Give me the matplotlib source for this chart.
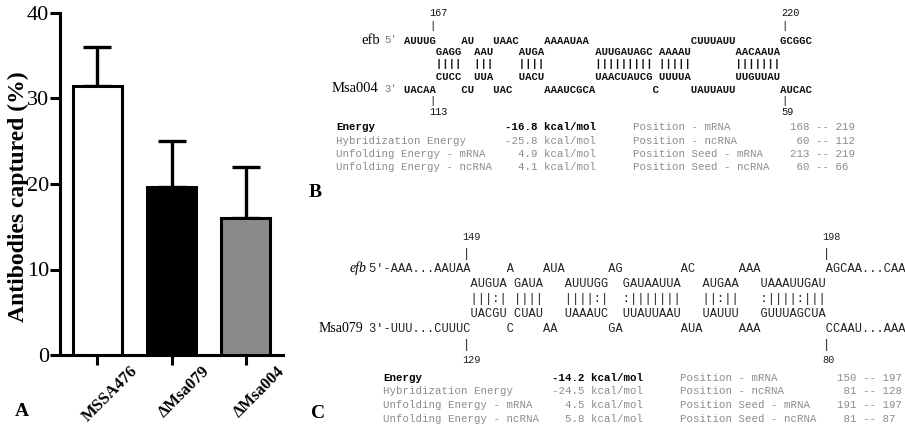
import numpy as np
import matplotlib
matplotlib.use("Agg")
import matplotlib.pyplot as plt
from matplotlib.transforms import ScaledTranslation

plt.rcParams['font.family'] = ['Liberation Serif', 'DejaVu Serif']

# panel A: antibody capture
strains = ['MSSA476', '\u0394Msa079', '\u0394Msa004']
captured = [31.5, 19.7, 16.0]
captured_sd = [4.5, 5.3, 6.0]
bar_colors = ['white', 'black', '#8a8a8a']

# panel B: efb / Msa004 duplex
b_flank5 = ('AUUUG', 'UACAA')
b_top = ['GAGG', 'AAU', 'AUGA', 'AUUGAUAGC', 'AAAAU', 'AACAAUA']
b_pairs = ['||||', '|||', '||||', '|||||||||', '|||||', '|||||||']
b_bot = ['CUCC', 'UUA', 'UACU', 'UAACUAUCG', 'UUUUA', 'UUGUUAU']
b_loop_top = ['AU', 'UAAC', 'AAAAUAA', '', 'CUUUAUU']
b_loop_bot = ['CU', 'UAC', 'AAAUCGCA', 'C', 'UAUUAUU']
b_flank3 = ('GCGGC', 'AUCAC')
b_marks = (167, 220, 113, 59)
b_energy = [-16.8, -25.8, 4.9, 4.1]
b_ranges = [(168, 219), (60, 112), (213, 219), (60, 66)]

# panel C: efb / Msa079 duplex
c_flank5 = ("5'-AAA...AAUAA", "3'-UUU...CUUUC")
c_top = ['AUGUA', 'GAUA', 'AUUUGG', 'GAUAAUUA', 'AUGAA', 'UAAAUUGAU']
c_pairs = ['|||:|', '||||', '||||:|', ':|||||||', '||:||', ':||||:|||']
c_bot = ['UACGU', 'CUAU', 'UAAAUC', 'UUAUUAAU', 'UAUUU', 'GUUUAGCUA']
c_loop_top = ['A', 'AUA', 'AG', 'AC', 'AAA']
c_loop_bot = ['C', 'AA', 'GA', 'AUA', 'AAA']
c_flank3 = ("AGCAA...CAA", "CCAAU...AAA")
c_marks = (149, 198, 129, 80)
c_energy = [-14.2, -24.5, 4.5, 5.8]
c_ranges = [(150, 197), (81, 128), (191, 197), (81, 87)]

energy_names = ['Energy', 'Hybridization Energy', 'Unfolding Energy - mRNA', 'Unfolding Energy - ncRNA']
position_names = ['Position - mRNA', 'Position - ncRNA', 'Position Seed - mRNA', 'Position Seed - ncRNA']

W, H = 905, 428
fig = plt.figure(figsize=(W / 100, H / 100), dpi=100)


def fx(x):
    return x / W


def fy(y):
    return 1 - y / H


def put(x, y, s, **kw):
    kw.setdefault('va', 'center')
    return fig.text(fx(x), fy(y), s, **kw)


MONO = 'Liberation Mono'
GREY = '#8c8c8c'

# ---- A ----
ax = fig.add_axes([fx(60), fy(355), 223 / W, 342 / H])
xpos = np.arange(len(strains))
ax.bar(xpos, captured, width=0.66, color=bar_colors, edgecolor='black', linewidth=2.2, zorder=3)
ax.errorbar(xpos, captured, yerr=[np.zeros(len(xpos)), captured_sd], fmt='none', ecolor='black',
            elinewidth=2.4, capsize=10, capthick=2.4, zorder=2)
ax.set_xlim(-0.5, 2.5)
ax.set_ylim(0, 40)
ax.set_yticks([0, 10, 20, 30, 40])
for side in ['top', 'right']:
    ax.spines[side].set_visible(False)
for side in ['left', 'bottom']:
    ax.spines[side].set_linewidth(2.2)
ax.tick_params(axis='y', length=7, width=2.2, labelsize=16, pad=1)
ax.tick_params(axis='x', length=7, width=2.2, pad=-1)
ax.set_xticks(xpos, strains, rotation=45, ha='center', fontsize=12, fontweight='bold')
shift = ScaledTranslation(13 / 100, 0, fig.dpi_scale_trans)
for lab in ax.get_xticklabels():
    lab.set_transform(lab.get_transform() + shift)
put(18, 197, 'Antibodies captured (%)', rotation=90, ha='center', fontsize=17, fontweight='bold')
put(15, 412, 'A', fontsize=14, fontweight='bold')


# ---- duplex drawing ----
def duplex_rows(flank5, top, pairs, bot, loop_top, loop_bot, flank3):
    n = len(flank5[0])
    r_top, r_up, r_mid, r_lo, r_bot = flank5[0], ' ' * n, ' ' * n, ' ' * n, flank5[1]
    for i in range(len(top)):
        h = len(top[i])
        r_top += ' ' * h
        r_up += top[i]
        r_mid += pairs[i]
        r_lo += bot[i]
        r_bot += ' ' * h
        if i < len(loop_top):
            w = max(len(loop_top[i]), len(loop_bot[i]))
            r_top += loop_top[i].ljust(w)
            r_bot += loop_bot[i].ljust(w)
            r_up += ' ' * w
            r_mid += ' ' * w
            r_lo += ' ' * w
    col3 = len(r_top)
    r_top += flank3[0]
    r_bot += flank3[1]
    return [r_top, r_up, r_mid, r_lo, r_bot], n - 1, col3


def draw_duplex(x0, cw, row_y, mark_y, rows, col5, col3, marks, color, weight='normal'):
    fs = cw / 0.6 * 0.72
    off = 0.33 * fs * 100 / 72
    for y, s in zip(row_y, rows):
        fig.text(fx(x0), fy(y + off), s, family=MONO, fontsize=fs, color=color,
                 fontweight=weight, ha='left', va='baseline')
    m5, m3, n5, n3 = marks
    for col, num, ny, py in [(col5, m5, mark_y[0], mark_y[1]), (col3, m3, mark_y[0], mark_y[1]),
                             (col5, n5, mark_y[3], mark_y[2]), (col3, n3, mark_y[3], mark_y[2])]:
        fig.text(fx(x0 + col * cw), fy(py + off), '|', family=MONO, fontsize=fs, color=color,
                 ha='left', va='baseline')
        put(x0 + col * cw, ny, str(num), family=MONO, fontsize=7.4, color=color, ha='left')


def draw_table(x_lab, x_val, x_pos, x_rng, ys, energy, ranges):
    fs = 6.42 / 0.6 * 0.72
    for i, y in enumerate(ys):
        c = 'black' if i == 0 else GREY
        wt = 'bold' if i == 0 else 'normal'
        put(x_lab, y, energy_names[i], family=MONO, fontsize=fs, color=c, fontweight=wt)
        put(x_val, y, f'{energy[i]:5.1f} kcal/mol', family=MONO, fontsize=fs, color=c, fontweight=wt)
        put(x_pos, y, position_names[i], family=MONO, fontsize=fs, color=GREY)
        put(x_rng, y, f'{ranges[i][0]:3d} -- {ranges[i][1]}', family=MONO, fontsize=fs, color=GREY)


# ---- B ----
rows, c5, c3 = duplex_rows(b_flank5, b_top, b_pairs, b_bot, b_loop_top, b_loop_bot, b_flank3)
bx0, bcw = 404, 6.4
draw_duplex(bx0, bcw, [40, 51.5, 63.5, 76, 89], [13, 25.5, 100, 112], rows, c5, c3,
            b_marks, '#111111', weight='bold')
put(bx0 - 3 * bcw, 40, "5'", family=MONO, fontsize=bcw / 0.6 * 0.72, color='#777777')
put(bx0 - 3 * bcw, 89, "3'", family=MONO, fontsize=bcw / 0.6 * 0.72, color='#777777')
put(380, 40, 'efb', fontsize=10.5, ha='right')
put(378, 89, 'Msa004', fontsize=10.5, ha='right')
draw_table(336, 505, 633, 790, [127, 140.5, 154, 167.5], b_energy, b_ranges)
put(309, 192, 'B', fontsize=14, fontweight='bold')

# ---- C ----
rows, c5, c3 = duplex_rows(c_flank5, c_top, c_pairs, c_bot, c_loop_top, c_loop_bot, c_flank3)
cx0, ccw = 369, 7.2
draw_duplex(cx0, ccw, [268, 283, 298, 313, 328.5], [237, 253, 344, 360], rows, c5, c3,
            c_marks, '#222222')
put(367, 268, 'efb', fontsize=10, ha='right', style='italic')
put(363, 329, 'Msa079', fontsize=10, ha='right')
draw_table(383, 552, 680, 837, [378, 391.5, 405, 418.5], c_energy, c_ranges)
put(311, 413, 'C', fontsize=14, fontweight='bold')

fig.savefig('out.png', dpi=100)
